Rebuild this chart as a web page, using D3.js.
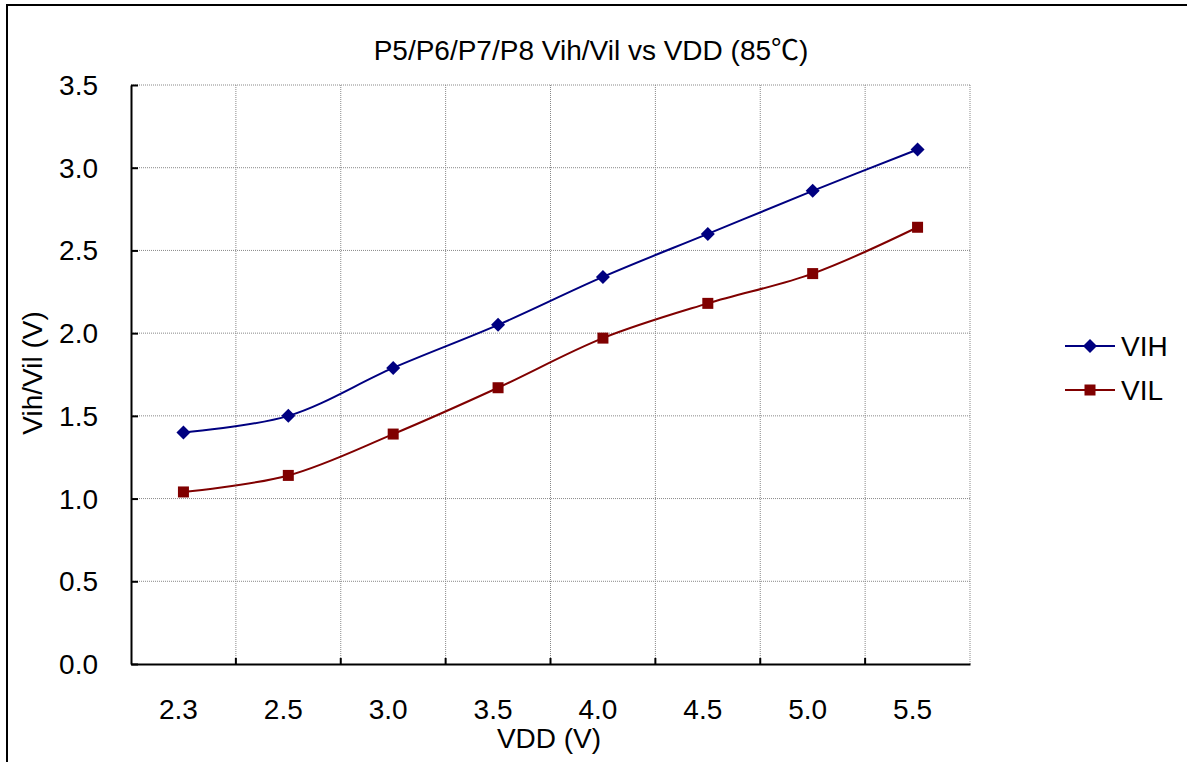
<!DOCTYPE html>
<html><head><meta charset="utf-8">
<script src="https://cdn.jsdelivr.net/npm/d3@7/dist/d3.min.js"></script>
<style>body{margin:0;background:#fff}svg{display:block}text{font-family:"Liberation Sans",Arial,"Noto Sans CJK SC",sans-serif;fill:#000}</style>
</head><body><svg id="c" width="1187" height="762"></svg>
<script>
const categories = ["2.3","2.5","3.0","3.5","4.0","4.5","5.0","5.5"];
const vih = [1.40,1.50,1.79,2.05,2.34,2.60,2.86,3.11];
const vil = [1.04,1.14,1.39,1.67,1.97,2.18,2.36,2.64];
const yTicks = [0,0.5,1.0,1.5,2.0,2.5,3.0,3.5];
const seriesNames = ["VIH","VIL"];
const title = "P5/P6/P7/P8 Vih/Vil vs VDD (85℃)";
const xTitle = "VDD (V)", yTitle = "Vih/Vil (V)";

const FS = 28;
const svg = d3.select("#c");
svg.append("rect").attr("x",7).attr("y",5).attr("width",1200).attr("height",800)
  .attr("fill","none").attr("stroke","#000").attr("stroke-width",2);

const L=131,R=970,T=85,B=664;
const x = d3.scaleBand().domain(categories).range([L,R]);
const y = d3.scaleLinear().domain([0,3.5]).range([B,T]);

const g = svg.append("g");
g.selectAll(".hg").data(yTicks.filter(d=>d>0)).join("line")
  .attr("x1",L).attr("x2",R).attr("y1",d=>y(d)).attr("y2",d=>y(d))
  .attr("stroke","#888").attr("stroke-width",1).attr("stroke-dasharray","1,1");
const bounds = categories.map(c=>x(c)).concat([R]).slice(1);
g.selectAll(".vg").data(bounds).join("line")
  .attr("x1",d=>d).attr("x2",d=>d).attr("y1",T).attr("y2",B)
  .attr("stroke","#888").attr("stroke-width",1).attr("stroke-dasharray","1,1");

const ya = svg.append("g").attr("transform",`translate(${L},0)`)
  .call(d3.axisLeft(y).tickValues(yTicks).tickFormat(d3.format(".1f")).tickSizeInner(-7).tickSizeOuter(0).tickPadding(33));
ya.attr("font-size",null).attr("font-family",null);
ya.select(".domain").attr("stroke","#000").attr("stroke-width",2);
ya.selectAll(".tick line").attr("stroke","#000").attr("stroke-width",2);
ya.selectAll("text").style("font-size",FS+"px").attr("dy","0.34em");

const xa = svg.append("g").attr("transform",`translate(0,${B})`).call(d3.axisBottom(x).tickSize(0).tickPadding(0));
xa.attr("font-size",null).attr("font-family",null);
xa.select(".domain").attr("stroke","#000").attr("stroke-width",2);
xa.selectAll("text").style("font-size",FS+"px").attr("dy",0).attr("y",55).attr("dx",-5);
xa.selectAll(".xt").data(bounds.slice(0,-1)).join("line")
  .attr("x1",d=>d).attr("x2",d=>d).attr("y1",0).attr("y2",-6)
  .attr("stroke","#000").attr("stroke-width",2);

svg.append("text").attr("x",591).attr("y",60).attr("text-anchor","middle").style("font-size","28px").text(title);
svg.append("text").attr("x",549).attr("y",748).attr("text-anchor","middle").style("font-size",FS+"px").text(xTitle);
svg.append("text").attr("transform","translate(42,373) rotate(-90)").attr("text-anchor","middle").style("font-size",FS+"px").text(yTitle);

const cx = c => x(c)+x.bandwidth()/2;
const line = d3.line().x((d,i)=>cx(categories[i])).y(d=>y(d)).curve(d3.curveCatmullRom.alpha(0.5));
const series = [{name:seriesNames[0],vals:vih,color:"#000080",shape:"diamond"},
                {name:seriesNames[1],vals:vil,color:"#800000",shape:"square"}];
function marker(sel, shape, color){
  if(shape==="diamond"){
    sel.append("path").attr("d","M0,-7L7,0L0,7L-7,0Z").attr("fill",color);
  } else {
    sel.append("rect").attr("x",-5.5).attr("y",-5.5).attr("width",11).attr("height",11).attr("fill",color);
  }
}
series.forEach(s=>{
  svg.append("path").datum(s.vals).attr("d",line).attr("fill","none").attr("stroke",s.color).attr("stroke-width",2);
  s.vals.forEach((v,i)=>{
    const m = svg.append("g").attr("transform",`translate(${cx(categories[i])},${y(v)})`);
    marker(m,s.shape,s.color);
  });
});

series.forEach((s,i)=>{
  const ly = 346 + i*44;
  svg.append("line").attr("x1",1065).attr("x2",1115).attr("y1",ly).attr("y2",ly).attr("stroke",s.color).attr("stroke-width",2);
  const m = svg.append("g").attr("transform",`translate(1090,${ly})`);
  marker(m,s.shape,s.color);
  svg.append("text").attr("x",1121).attr("y",ly).attr("dy","0.36em").style("font-size",FS+"px").text(s.name);
});
</script></body></html>
